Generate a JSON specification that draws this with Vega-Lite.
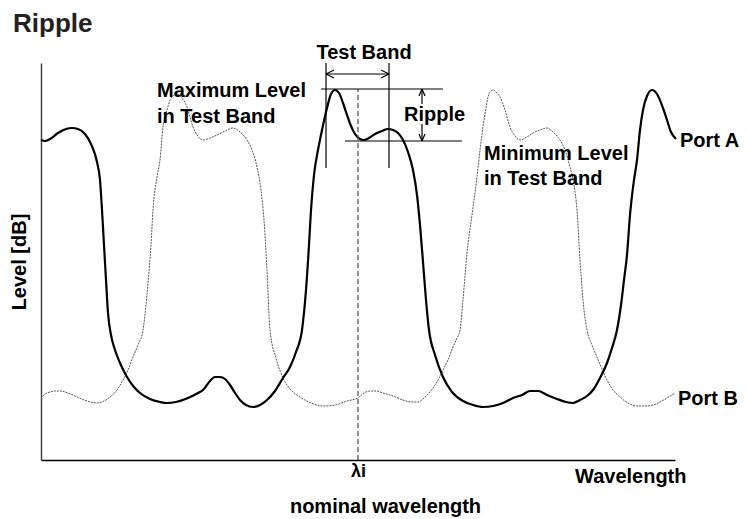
{
  "$schema": "https://vega.github.io/schema/vega-lite/v6.json",
  "width": 634,
  "height": 397,
  "autosize": {"type": "none"},
  "padding": {"left": 41, "top": 63, "right": 72, "bottom": 59},
  "background": "white",
  "config": {"view": {"stroke": null}, "font": "Liberation Sans"},
  "datasets": {
    "portA": [
      {"wl":0,"lv":320},{"wl":4,"lv":319},{"wl":9,"lv":321},{"wl":17,"lv":327},{"wl":25,"lv":331},{"wl":31,"lv":332},{"wl":37,"lv":331},{"wl":44,"lv":326},{"wl":50,"lv":316},{"wl":56,"lv":298},{"wl":59,"lv":280},{"wl":61,"lv":250},{"wl":63,"lv":215},{"wl":65,"lv":180},{"wl":67,"lv":147},{"wl":70,"lv":125},{"wl":74,"lv":110},{"wl":79,"lv":97},{"wl":86,"lv":83},{"wl":93,"lv":73},{"wl":99,"lv":67},{"wl":109,"lv":61},{"wl":119,"lv":58},{"wl":126,"lv":57},{"wl":135,"lv":58},{"wl":147,"lv":62},{"wl":157,"lv":67},{"wl":162,"lv":70},{"wl":169,"lv":79},{"wl":174,"lv":83},{"wl":179,"lv":83},{"wl":184,"lv":81},{"wl":189,"lv":75},{"wl":194,"lv":67},{"wl":199,"lv":60},{"wl":205,"lv":55},{"wl":212,"lv":53},{"wl":219,"lv":55},{"wl":226,"lv":60},{"wl":234,"lv":69},{"wl":242,"lv":82},{"wl":249,"lv":93},{"wl":255,"lv":108},{"wl":261,"lv":130},{"wl":265,"lv":170},{"wl":268,"lv":215},{"wl":270,"lv":250},{"wl":273,"lv":285},{"wl":277,"lv":310},{"wl":281,"lv":330},{"wl":286,"lv":352},{"wl":290,"lv":366},{"wl":294,"lv":370},{"wl":298,"lv":367},{"wl":302,"lv":357},{"wl":306,"lv":345},{"wl":310,"lv":334},{"wl":314,"lv":326},{"wl":319,"lv":321},{"wl":323,"lv":320},{"wl":328,"lv":322},{"wl":334,"lv":326},{"wl":341,"lv":329},{"wl":347,"lv":331},{"wl":352,"lv":330},{"wl":357,"lv":327},{"wl":362,"lv":320},{"wl":367,"lv":308},{"wl":372,"lv":290},{"wl":376,"lv":265},{"wl":379,"lv":235},{"wl":382,"lv":198},{"wl":385,"lv":160},{"wl":388,"lv":130},{"wl":394,"lv":105},{"wl":402,"lv":83},{"wl":411,"lv":68},{"wl":422,"lv":59},{"wl":432,"lv":55},{"wl":442,"lv":53},{"wl":452,"lv":54},{"wl":462,"lv":57},{"wl":472,"lv":62},{"wl":481,"lv":65},{"wl":489,"lv":69},{"wl":497,"lv":69},{"wl":506,"lv":65},{"wl":516,"lv":61},{"wl":525,"lv":58},{"wl":532,"lv":57},{"wl":539,"lv":60},{"wl":546,"lv":64},{"wl":552,"lv":70},{"wl":559,"lv":82},{"wl":566,"lv":97},{"wl":571,"lv":112},{"wl":576,"lv":130},{"wl":580,"lv":155},{"wl":583,"lv":180},{"wl":586,"lv":205},{"wl":589,"lv":245},{"wl":593,"lv":280},{"wl":596,"lv":300},{"wl":599,"lv":330},{"wl":602,"lv":350},{"wl":606,"lv":364},{"wl":611,"lv":370},{"wl":616,"lv":366},{"wl":622,"lv":352},{"wl":626,"lv":340},{"wl":630,"lv":328},{"wl":635,"lv":321}
    ],
    "portB": [
      {"wl":0,"lv":62},{"wl":4,"lv":66},{"wl":9,"lv":68},{"wl":14,"lv":69},{"wl":19,"lv":69},{"wl":27,"lv":67},{"wl":36,"lv":63},{"wl":46,"lv":59},{"wl":56,"lv":57},{"wl":63,"lv":59},{"wl":69,"lv":63},{"wl":76,"lv":70},{"wl":82,"lv":80},{"wl":87,"lv":90},{"wl":92,"lv":103},{"wl":97,"lv":115},{"wl":102,"lv":130},{"wl":105,"lv":155},{"wl":107,"lv":177},{"wl":110,"lv":215},{"wl":112,"lv":250},{"wl":116,"lv":283},{"wl":119,"lv":300},{"wl":122,"lv":333},{"wl":126,"lv":350},{"wl":129,"lv":360},{"wl":133,"lv":365},{"wl":136,"lv":366},{"wl":140,"lv":363},{"wl":146,"lv":353},{"wl":149,"lv":343},{"wl":152,"lv":333},{"wl":156,"lv":325},{"wl":162,"lv":320},{"wl":169,"lv":322},{"wl":176,"lv":325},{"wl":184,"lv":329},{"wl":192,"lv":332},{"wl":199,"lv":328},{"wl":206,"lv":320},{"wl":211,"lv":310},{"wl":216,"lv":293},{"wl":220,"lv":270},{"wl":223,"lv":240},{"wl":226,"lv":190},{"wl":229,"lv":130},{"wl":235,"lv":102},{"wl":242,"lv":82},{"wl":250,"lv":70},{"wl":259,"lv":63},{"wl":270,"lv":57},{"wl":282,"lv":54},{"wl":294,"lv":55},{"wl":306,"lv":59},{"wl":317,"lv":62},{"wl":323,"lv":67},{"wl":329,"lv":69},{"wl":335,"lv":69},{"wl":342,"lv":67},{"wl":352,"lv":64},{"wl":362,"lv":60},{"wl":370,"lv":58},{"wl":377,"lv":58},{"wl":384,"lv":63},{"wl":392,"lv":72},{"wl":397,"lv":80},{"wl":402,"lv":90},{"wl":407,"lv":100},{"wl":412,"lv":113},{"wl":416,"lv":122},{"wl":419,"lv":130},{"wl":422,"lv":160},{"wl":426,"lv":207},{"wl":431,"lv":245},{"wl":436,"lv":283},{"wl":439,"lv":310},{"wl":442,"lv":333},{"wl":445,"lv":352},{"wl":447,"lv":363},{"wl":450,"lv":369},{"wl":452,"lv":370},{"wl":455,"lv":368},{"wl":459,"lv":363},{"wl":464,"lv":350},{"wl":469,"lv":333},{"wl":474,"lv":324},{"wl":479,"lv":320},{"wl":486,"lv":323},{"wl":492,"lv":327},{"wl":499,"lv":330},{"wl":506,"lv":332},{"wl":512,"lv":328},{"wl":519,"lv":320},{"wl":524,"lv":310},{"wl":529,"lv":293},{"wl":533,"lv":275},{"wl":536,"lv":250},{"wl":539,"lv":200},{"wl":543,"lv":150},{"wl":546,"lv":130},{"wl":551,"lv":115},{"wl":556,"lv":103},{"wl":561,"lv":91},{"wl":566,"lv":80},{"wl":572,"lv":70},{"wl":579,"lv":63},{"wl":587,"lv":57},{"wl":596,"lv":54},{"wl":604,"lv":54},{"wl":612,"lv":55},{"wl":619,"lv":58},{"wl":626,"lv":62},{"wl":634,"lv":67}
    ],
    "rules": [
      {"wl":285,"lv":292,"wl2":285,"lv2":397},
      {"wl":348,"lv":292,"wl2":348,"lv2":397},
      {"wl":280,"lv":371,"wl2":402,"lv2":371},
      {"wl":304,"lv":319,"wl2":421,"lv2":319},
      {"wl":285,"lv":386,"wl2":348,"lv2":386},
      {"wl":285,"lv":386,"wl2":293,"lv2":390},
      {"wl":285,"lv":386,"wl2":293,"lv2":382},
      {"wl":348,"lv":386,"wl2":340,"lv2":390},
      {"wl":348,"lv":386,"wl2":340,"lv2":382},
      {"wl":381,"lv":371,"wl2":381,"lv2":356},
      {"wl":381,"lv":336,"wl2":381,"lv2":319},
      {"wl":381,"lv":371,"wl2":378,"lv2":364},
      {"wl":381,"lv":371,"wl2":384,"lv2":364},
      {"wl":381,"lv":319,"wl2":378,"lv2":326},
      {"wl":381,"lv":319,"wl2":384,"lv2":326}
    ],
    "nominal": [{"wl":317,"lv":0,"wl2":317,"lv2":371}],
    "labels": [
      {"label":"Maximum Level","wl":116,"lv":363},
      {"label":"in Test Band","wl":116,"lv":337},
      {"label":"Minimum Level","wl":443,"lv":300},
      {"label":"in Test Band","wl":443,"lv":275},
      {"label":"Ripple","wl":363,"lv":339},
      {"label":"Port A","wl":639,"lv":313},
      {"label":"Port B","wl":637,"lv":55},
      {"label":"Wavelength","wl":534,"lv":-23}
    ],
    "centered": [{"label":"Test Band","wl":323,"lv":401}],
    "heading": [{"label":"Ripple","wl":-28,"lv":428}]
  },
  "encoding": {
    "x": {"field": "wl", "type": "quantitative", "scale": {"domain": [0, 634], "nice": false, "zero": false},
      "axis": {"domain": true, "domainColor": "#000000", "domainWidth": 1.5, "ticks": false, "grid": false, "values": [317], "labelExpr": "'λi'", "labelFlush": false, "labelFont": "Liberation Sans", "labelFontSize": 18, "labelFontWeight": "bold", "labelColor": "#000000", "labelPadding": 2, "title": "nominal wavelength", "titleFont": "Liberation Sans", "titleFontSize": 20, "titleFontWeight": "bold", "titleColor": "#000000", "titleX": 344, "titleY": 52, "titleAlign": "center", "titleBaseline": "alphabetic"}},
    "y": {"field": "lv", "type": "quantitative", "scale": {"domain": [0, 397], "nice": false, "zero": false},
      "axis": {"domain": true, "domainColor": "#444444", "domainWidth": 1.5, "ticks": false, "labels": false, "grid": false, "title": "Level [dB]", "titleFont": "Liberation Sans", "titleFontSize": 20, "titleFontWeight": "bold", "titleColor": "#000000", "titlePadding": 12}}
  },
  "layer": [
    {
      "data": {"name": "portB"},
      "mark": {"type": "line", "interpolate": "monotone", "color": "#555555", "strokeWidth": 1, "strokeDash": [2, 1], "clip": false}
    },
    {
      "data": {"name": "portA"},
      "mark": {"type": "line", "interpolate": "monotone", "color": "#000000", "strokeWidth": 2.2, "clip": false}
    },
    {
      "data": {"name": "nominal"},
      "mark": {"type": "rule", "color": "#555555", "strokeWidth": 1.3, "strokeDash": [5, 3]},
      "encoding": {"x2": {"field": "wl2"}, "y2": {"field": "lv2"}}
    },
    {
      "data": {"name": "rules"},
      "mark": {"type": "rule", "color": "#000000", "strokeWidth": 1.2},
      "encoding": {"x2": {"field": "wl2"}, "y2": {"field": "lv2"}}
    },
    {
      "data": {"name": "labels"},
      "mark": {"type": "text", "align": "left", "baseline": "alphabetic", "font": "Liberation Sans", "fontSize": 20, "fontWeight": "bold", "color": "#000000"},
      "encoding": {"text": {"field": "label"}}
    },
    {
      "data": {"name": "centered"},
      "mark": {"type": "text", "align": "center", "baseline": "alphabetic", "font": "Liberation Sans", "fontSize": 20, "fontWeight": "bold", "color": "#000000"},
      "encoding": {"text": {"field": "label"}}
    },
    {
      "data": {"name": "heading"},
      "mark": {"type": "text", "align": "left", "baseline": "alphabetic", "font": "Liberation Sans", "fontSize": 26, "fontWeight": "bold", "color": "#222222"},
      "encoding": {"text": {"field": "label"}}
    }
  ]
}
